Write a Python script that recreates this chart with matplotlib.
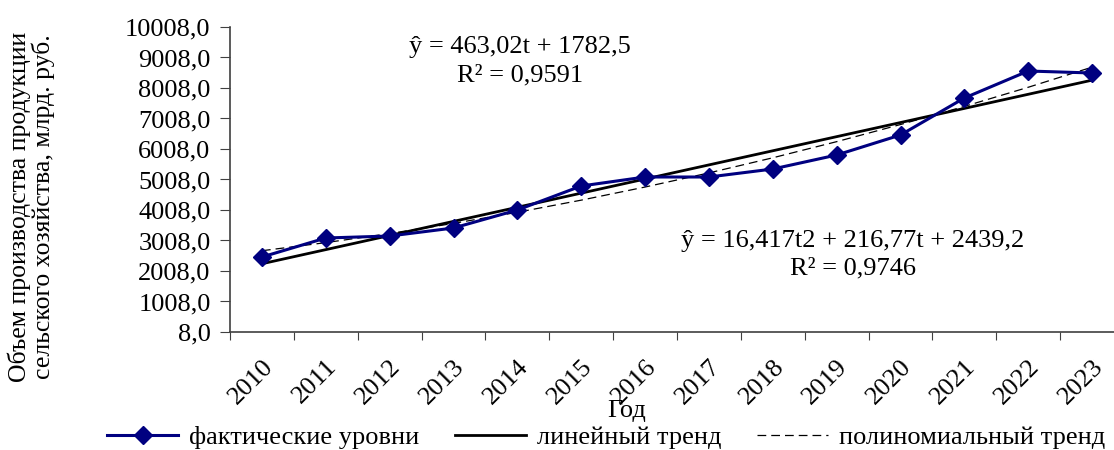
import numpy as np
import matplotlib
matplotlib.use('Agg')
import matplotlib.pyplot as plt

plt.rcParams['font.family'] = ['Liberation Serif', 'DejaVu Serif']

# Data
years = ['2010', '2011', '2012', '2013', '2014', '2015', '2016',
         '2017', '2018', '2019', '2020', '2021', '2022', '2023']
values = [2467, 3090, 3155, 3418, 4008, 4795, 5090,
          5090, 5352, 5811, 6467, 7680, 8565, 8500]

# Trend equations shown on the chart (t = 1..14)
lin_coef = [463.02, 1782.5]
poly_coef = [16.417, 216.77, 2439.2]

y_ticks = [8, 1008, 2008, 3008, 4008, 5008, 6008, 7008, 8008, 9008, 10008]

x = np.arange(len(years))
t = x + 1

fig = plt.figure(figsize=(11.14, 4.5), dpi=100)
ax = fig.add_axes([230 / 1114, 1 - 332 / 450, 894 / 1114, 305 / 450])

ax.plot(x, values, color='#000080', lw=2.2, marker='D', markersize=9,
        label='фактические уровни', zorder=3)
ax.plot(x, np.polyval(lin_coef, t), color='black', lw=2.0,
        label='линейный тренд', zorder=2)
ax.plot(x, np.polyval(poly_coef, t), color='black', lw=0.9,
        linestyle=(0, (7, 4)), label='полиномиальный тренд', zorder=2)

ax.set_xlim(-0.5, len(years) - 0.5)
ax.set_ylim(8, 10008)
ax.set_yticks(y_ticks)
ax.set_yticklabels([f'{v:.1f}'.replace('.', ',') for v in y_ticks], fontsize=19)

# tick marks between categories, labels at category centers
ax.set_xticks(np.arange(len(years) + 1) - 0.5)
ax.set_xticklabels([])
ax.set_xticks(x, minor=True)
ax.set_xticklabels(years, minor=True, rotation=45, ha='right', va='top',
                   rotation_mode='anchor', fontsize=19)
ax.tick_params(axis='x', which='minor', length=0, pad=17)
ax.tick_params(axis='x', which='major', length=6, color='#404040', direction='out')
ax.tick_params(axis='y', length=7, color='#404040', pad=7)

for s in ['top', 'right']:
    ax.spines[s].set_visible(False)
for s in ['left', 'bottom']:
    ax.spines[s].set_color('#404040')
    ax.spines[s].set_linewidth(1.2)

ax.text(0.3244, 0.887, 'ŷ = 463,02t + 1782,5\nR² = 0,9591', transform=ax.transAxes,
        ha='center', va='center', fontsize=19, linespacing=1.38)
ax.text(0.697, 0.2525, 'ŷ = 16,417t2 + 216,77t + 2439,2\nR² = 0,9746', transform=ax.transAxes,
        ha='center', va='center', fontsize=19, linespacing=1.3)

fig.text(31 / 1114, 1 - 207 / 450,
         'Объем производства продукции\nсельского хозяйства, млрд. руб.',
         rotation=90, ha='center', va='center', fontsize=18.5,
         multialignment='center', linespacing=1.05)
fig.text(627 / 1114, 1 - 411 / 450, 'Год', ha='center', va='center', fontsize=19)

fig.legend(loc='center', bbox_to_anchor=(606 / 1114, 1 - 437 / 450), ncol=3,
           frameon=False, fontsize=19, handlelength=2.7, handletextpad=0.4,
           columnspacing=1.35)

fig.savefig('out.png', dpi=100)
